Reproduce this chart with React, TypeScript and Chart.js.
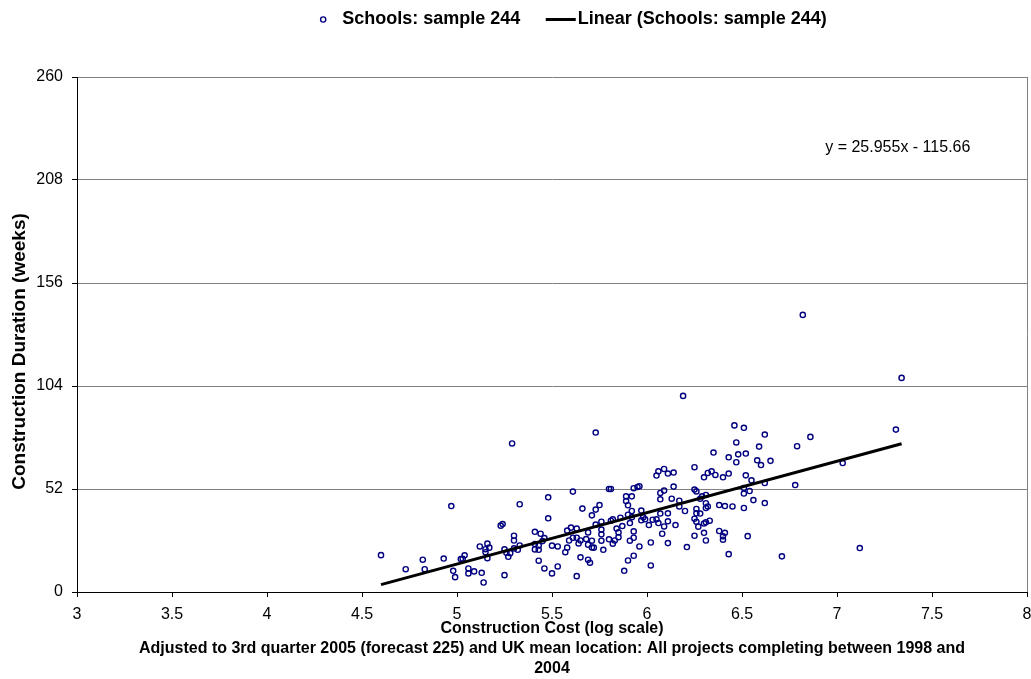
import React, { useEffect, useRef } from 'react';
import { Chart, registerables } from 'chart.js';

Chart.register(...registerables);

// ---------- data ----------
const SERIES_LABEL = 'Schools: sample 244';
const TREND_LABEL = 'Linear (Schools: sample 244)';

const COST_LOG: number[] = [
  5.29, 4.60, 4.73, 4.82, 4.83, 4.93, 4.97, 4.98, 4.99, 5.02, 5.04, 5.03, 5.06, 5.06, 5.09, 5.12, 5.13, 5.14, 5.15, 5.15,
  5.16, 5.17, 5.16, 5.23, 5.24, 5.25, 5.25, 5.26, 5.27, 5.28, 5.30, 5.30, 5.30, 5.32, 5.33, 5.33, 5.41, 5.41, 5.41, 5.43,
  5.43, 5.43, 5.44, 5.45, 5.46, 5.46, 5.48, 5.48, 5.50, 5.50, 5.53, 5.53, 5.73, 5.61, 5.66, 5.58, 5.60, 5.58, 5.57, 5.59,
  5.61, 5.63, 5.63, 5.64, 5.65, 5.65, 5.63, 5.69, 5.68, 5.69, 5.69, 5.70, 5.71, 5.71, 5.72, 5.71, 5.73, 5.73, 5.75, 5.76,
  5.76, 5.76, 5.76, 5.77, 5.80, 5.80, 5.81, 5.81, 5.82, 5.82, 5.83, 5.84, 5.85, 5.85, 5.86, 5.87, 5.88, 5.89, 5.89, 5.90,
  5.90, 5.91, 5.91, 5.92, 5.92, 5.92, 5.93, 5.93, 5.93, 5.93, 5.90, 5.95, 5.96, 5.97, 5.97, 5.96, 5.98, 5.99, 6.01, 6.02,
  6.02, 6.03, 6.05, 6.06, 6.07, 6.08, 6.09, 6.05, 6.06, 6.09, 6.11, 6.07, 6.07, 6.09, 6.11, 6.11, 6.11, 6.46, 6.51, 6.62,
  6.47, 6.59, 6.35, 6.48, 6.52, 6.43, 6.47, 6.58, 6.60, 6.65, 6.14, 6.25, 6.30, 6.32, 6.34, 6.36, 6.40, 6.43, 6.52, 6.55,
  6.62, 6.14, 6.25, 6.26, 6.31, 6.29, 6.28, 6.51, 6.54, 6.51, 6.13, 6.17, 6.31, 6.31, 6.32, 6.38, 6.41, 6.45, 6.51, 6.56,
  6.62, 6.17, 6.20, 6.26, 6.26, 6.28, 6.25, 6.26, 6.33, 6.30, 6.31, 6.15, 6.27, 6.25, 6.30, 6.31, 6.38, 6.41, 6.40, 6.40,
  6.53, 6.21, 6.43, 6.71, 6.82, 7.34, 7.31, 6.79, 6.86, 7.03, 6.78, 7.12, 6.19,
];

const DURATION_WEEKS: number[] = [
  75.0, 18.6, 11.5, 16.3, 11.5, 16.9, 43.4, 10.7, 7.5, 16.6, 18.5, 16.8, 11.9, 9.4, 10.4, 23.0, 9.7, 4.8, 20.1, 21.6,
  24.4, 22.4, 17.1, 33.5, 34.3, 8.5, 21.5, 19.8, 17.8, 19.6, 28.4, 26.0, 22.0, 21.3, 44.3, 23.5, 30.4, 21.5, 24.2, 15.8,
  21.3, 23.5, 29.4, 25.7, 11.9, 27.2, 47.8, 37.2, 23.4, 9.4, 23.0, 12.9, 80.5, 50.7, 42.1, 31.0, 32.5, 22.4, 20.1, 26.0,
  27.4, 32.0, 27.4, 24.5, 26.0, 17.5, 8.0, 30.1, 26.7, 23.9, 16.3, 14.8, 22.5, 25.9, 22.4, 38.7, 41.6, 34.0, 43.9, 31.5,
  29.1, 35.5, 25.9, 21.3, 26.6, 52.0, 52.0, 36.0, 36.7, 24.4, 26.0, 32.0, 30.1, 27.7, 37.5, 33.3, 10.7, 48.3, 45.9, 43.8,
  39.0, 34.8, 25.9, 48.3, 40.9, 37.8, 27.4, 30.6, 52.4, 18.3, 15.9, 53.0, 53.4, 41.1, 36.2, 23.0, 37.7, 36.7, 33.8, 25.0,
  13.4, 36.5, 36.7, 34.8, 39.6, 29.4, 33.1, 58.8, 60.9, 62.1, 59.8, 50.0, 46.8, 51.2, 39.7, 35.7, 24.7, 84.1, 82.9, 79.5,
  75.5, 73.4, 70.4, 69.5, 69.9, 68.0, 65.5, 66.5, 64.1, 66.2, 60.3, 63.0, 57.9, 60.1, 60.9, 59.1, 57.9, 59.8, 58.9, 56.4,
  55.0, 53.2, 51.7, 50.8, 49.0, 48.3, 47.1, 52.5, 51.0, 49.7, 47.1, 46.1, 44.8, 42.4, 43.2, 43.9, 43.4, 43.2, 42.4, 46.4,
  44.9, 43.2, 40.9, 41.9, 39.7, 39.6, 37.0, 35.5, 36.0, 34.6, 35.2, 33.8, 33.0, 28.4, 29.9, 26.0, 30.8, 29.9, 28.1, 26.4,
  28.2, 22.7, 19.1, 18.0, 139.9, 108.1, 82.0, 73.6, 78.3, 65.1, 54.0, 22.2, 99.0,
];

const X_TICKS: number[] = [3, 3.5, 4, 4.5, 5, 5.5, 6, 6.5, 7, 7.5, 8];
const Y_TICKS: number[] = [0, 52, 104, 156, 208, 260];

const TREND_SLOPE = 25.955;
const TREND_INTERCEPT = -115.66;
const EQUATION_TEXT = 'y = 25.955x - 115.66';
const EQUATION_AT = { x: 7.32, y: 224.3 };

const Y_TITLE = 'Construction Duration (weeks)';
const X_TITLE: string[] = [
  'Construction Cost (log scale)',
  'Adjusted to 3rd quarter 2005 (forecast 225) and UK mean location: All projects completing between 1998 and',
  '2004',
];

// ---------- styles ----------
const FONT = '"Liberation Sans", Arial, Helvetica, sans-serif';
const POINT_COLOR = '#000080';
const GRID_COLOR = '#808080';

const decorations = {
  id: 'decorations',
  afterDraw(chart: any) {
    const { ctx, chartArea, scales } = chart;
    ctx.save();

    // right frame line
    ctx.strokeStyle = GRID_COLOR;
    ctx.lineWidth = 1;
    ctx.beginPath();
    const rx = Math.round(chartArea.right) + 0.5;
    ctx.moveTo(rx, chartArea.top);
    ctx.lineTo(rx, chartArea.bottom);
    ctx.stroke();

    // regression equation
    ctx.fillStyle = '#000';
    ctx.font = `16px ${FONT}`;
    ctx.textAlign = 'center';
    ctx.textBaseline = 'middle';
    ctx.fillText(
      EQUATION_TEXT,
      scales.x.getPixelForValue(EQUATION_AT.x),
      scales.y.getPixelForValue(EQUATION_AT.y)
    );

    // y axis title
    ctx.save();
    ctx.translate(20, (chartArea.top + chartArea.bottom) / 2 + 17);
    ctx.rotate(-Math.PI / 2);
    ctx.font = `bold 19px ${FONT}`;
    ctx.fillText(Y_TITLE, 0, 0);
    ctx.restore();

    // legend
    ctx.font = `bold 18px ${FONT}`;
    ctx.textAlign = 'left';
    const w1 = ctx.measureText(SERIES_LABEL).width;
    const w2 = ctx.measureText(TREND_LABEL).width;
    const total = 3 + 19 + w1 + 25.5 + 30 + 2 + w2;
    const legendCenter = 573.5;
    const ly = 19.5;
    const mx = legendCenter - total / 2 + 3;
    ctx.strokeStyle = POINT_COLOR;
    ctx.lineWidth = 1.4;
    ctx.beginPath();
    ctx.arc(mx, ly, 2.6, 0, Math.PI * 2);
    ctx.stroke();
    ctx.fillStyle = '#000';
    ctx.fillText(SERIES_LABEL, mx + 19, ly);
    const lx = mx + 19 + w1 + 25.5;
    ctx.strokeStyle = '#000';
    ctx.lineWidth = 3;
    ctx.beginPath();
    ctx.moveTo(lx, ly);
    ctx.lineTo(lx + 30, ly);
    ctx.stroke();
    ctx.fillText(TREND_LABEL, lx + 32, ly);

    ctx.restore();
  },
};

export default function App() {
  const canvasRef = useRef<HTMLCanvasElement | null>(null);

  useEffect(() => {
    document.body.style.margin = '0';
    const canvas = canvasRef.current;
    if (!canvas) return;

    const points = COST_LOG.map((x, i) => ({ x, y: DURATION_WEEKS[i] }));
    const xMin = Math.min(...COST_LOG);
    const xMax = Math.max(...COST_LOG);
    const trend = [
      { x: xMin, y: TREND_SLOPE * xMin + TREND_INTERCEPT },
      { x: xMax, y: TREND_SLOPE * xMax + TREND_INTERCEPT },
    ];

    Chart.defaults.font.family = FONT;
    Chart.defaults.color = '#000';

    const chart = new Chart(canvas, {
      type: 'scatter',
      data: {
        datasets: [
          {
            type: 'line',
            label: TREND_LABEL,
            data: trend,
            borderColor: '#000',
            borderWidth: 3,
            pointRadius: 0,
            fill: false,
            order: 0,
          } as any,
          {
            type: 'scatter',
            label: SERIES_LABEL,
            data: points,
            pointRadius: 2.6,
            pointHoverRadius: 2.6,
            pointBorderWidth: 1.4,
            borderColor: POINT_COLOR,
            backgroundColor: 'rgba(0,0,0,0)',
            order: 1,
          },
        ],
      },
      options: {
        responsive: false,
        animation: false,
        devicePixelRatio: 1,
        layout: { padding: { top: 77, right: 3, bottom: 0, left: 0 } },
        plugins: {
          legend: { display: false },
          tooltip: { enabled: false },
        },
        scales: {
          x: {
            type: 'linear',
            position: 'bottom',
            min: X_TICKS[0],
            max: X_TICKS[X_TICKS.length - 1],
            afterBuildTicks: (s: any) => {
              s.ticks = X_TICKS.map((v) => ({ value: v }));
            },
            afterFit: (s: any) => {
              s.height = 87;
              s.paddingLeft = 0;
              s.paddingRight = 0;
            },
            ticks: {
              font: { size: 16 },
              color: '#000',
              padding: 8,
              maxRotation: 0,
              autoSkip: false,
              callback: (v: any) => String(Number(v)),
            },
            grid: {
              drawOnChartArea: false,
              drawTicks: true,
              tickLength: 5,
              color: '#000',
              tickColor: '#000',
            },
            border: { display: true, color: '#000', width: 1 },
            title: {
              display: true,
              text: X_TITLE,
              color: '#000',
              font: { size: 16, weight: 'bold', lineHeight: 1.25 },
              padding: { top: 0, bottom: 0 },
            },
          },
          y: {
            type: 'linear',
            min: Y_TICKS[0],
            max: Y_TICKS[Y_TICKS.length - 1],
            afterBuildTicks: (s: any) => {
              s.ticks = Y_TICKS.map((v) => ({ value: v }));
            },
            afterFit: (s: any) => {
              s.width = 77;
            },
            ticks: {
              font: { size: 16 },
              color: '#000',
              padding: 9,
              autoSkip: false,
              callback: (v: any) => String(Number(v)),
            },
            grid: {
              color: GRID_COLOR,
              lineWidth: 1,
              drawTicks: true,
              tickLength: 5,
              tickColor: '#000',
            },
            border: { display: true, color: '#000', width: 1 },
          },
        },
      },
      plugins: [decorations],
    });

    return () => chart.destroy();
  }, []);

  return (
    <div style={{ width: 1031, height: 679 }}>
      <canvas ref={canvasRef} width={1031} height={679} style={{ display: 'block' }} />
    </div>
  );
}
